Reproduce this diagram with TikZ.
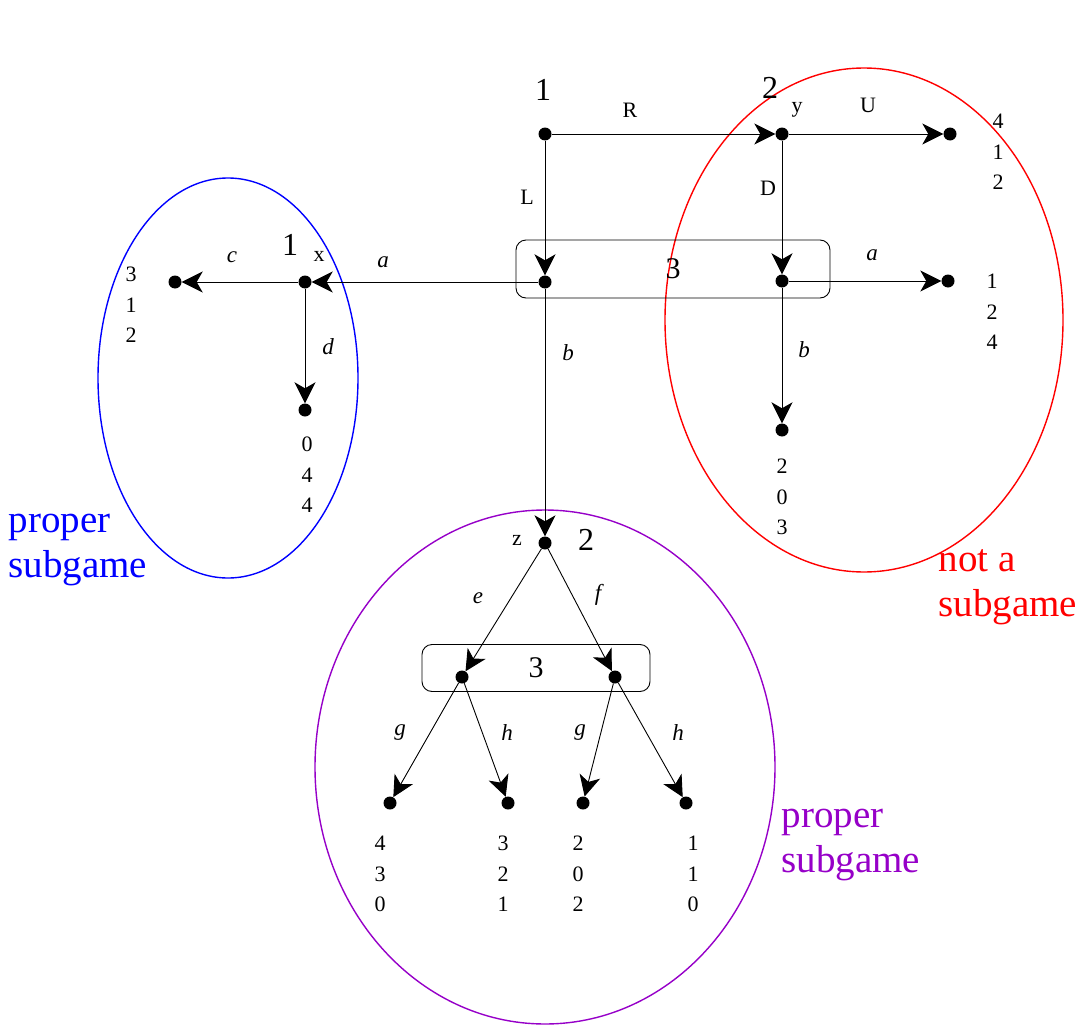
\documentclass[tikz,border=0pt]{standalone}
\usepackage{fontspec}
\setmainfont{Liberation Serif}
\usetikzlibrary{arrows.meta, positioning, shapes.geometric}
\definecolor{subblue}{RGB}{0,0,255}
\definecolor{subred}{RGB}{255,0,0}
\definecolor{subpurple}{RGB}{150,0,200}

\begin{document}
\begin{tikzpicture}[x=1pt, y=-1pt,
  every node/.style={font=\fontsize{20}{30}\selectfont},
  dot/.style={circle, fill, inner sep=0pt, minimum size=13pt},
  player/.style={font=\fontsize{32}{36}\selectfont},
  act/.style={font=\fontsize{22}{26}\selectfont},
  iact/.style={font=\fontsize{23}{26}\selectfont\itshape},
  pay/.style={align=center, font=\fontsize{22}{30.5}\selectfont},
  infoset/.style={draw, rounded corners=10pt, line width=0.9pt,
                  font=\fontsize{30}{34}\selectfont},
  region/.style={draw, ellipse, inner sep=0pt, line width=1.4pt},
  note/.style={align=left, anchor=west, font=\fontsize{39}{45}\selectfont},
  arr/.style={-{Stealth[length=21pt, width=21pt, inset=6pt]}, line width=0.9pt},
]
  \useasboundingbox (0,0) rectangle (1090,1025);

  % Subgame regions
  \node[region, subblue, minimum width=260pt, minimum height=400pt] (sgx) at (228,378) {};
  \node[region, subred, minimum width=398pt, minimum height=504pt] (sgy) at (864,320) {};
  \node[region, subpurple, minimum width=460pt, minimum height=514pt] (sgz) at (545,767) {};

  % Information sets of player 3
  \node[infoset, minimum width=314pt, minimum height=58pt] (h1) at (673,269) {3};
  \node[infoset, minimum width=228pt, minimum height=47pt] (h2) at (536,668) {3};

  % Decision nodes
  \node[dot] (root) at (545,134) {};
  \node[dot] (ny) at (782,134) {};
  \node[dot] (h1l) at (545,282) {};
  \node[dot] (h1r) at (782,281) {};
  \node[dot] (nx) at (305,282) {};
  \node[dot] (nz) at (545,543) {};
  \node[dot] (h2l) at (462,677) {};
  \node[dot] (h2r) at (615,677) {};

  % Terminal nodes
  \node[dot] (tU) at (950,134) {};
  \node[dot] (ta) at (948,281) {};
  \node[dot] (tb) at (782,430) {};
  \node[dot] (tc) at (175,282) {};
  \node[dot] (td) at (305,410) {};
  \node[dot] (tlg) at (390,803) {};
  \node[dot] (tlh) at (508,803) {};
  \node[dot] (trg) at (583,803) {};
  \node[dot] (trh) at (686,803) {};

  % Players and node names
  \node[player] (p1) at (543,90) {1};
  \node[player] (p2) at (770,88) {2};
  \node[act] (yname) at (797,110) {y};
  \node[player] (p1x) at (290,245) {1};
  \node[act] (xname) at (319,256) {x};
  \node[act] (zname) at (517,540) {z};
  \node[player] (p2z) at (586,540) {2};

  % Payoffs
  \node[pay] (uU) at (998,152) {4\\1\\2};
  \node[pay] (ua) at (992,312) {1\\2\\4};
  \node[pay] (ub) at (782,497) {2\\0\\3};
  \node[pay] (uc) at (131,305) {3\\1\\2};
  \node[pay] (ud) at (307,475) {0\\4\\4};
  \node[pay] (ulg) at (380,874) {4\\3\\0};
  \node[pay] (ulh) at (503,874) {3\\2\\1};
  \node[pay] (urg) at (578,874) {2\\0\\2};
  \node[pay] (urh) at (693,874) {1\\1\\0};

  % Moves
  \draw[arr] (root) -- (ny);
  \draw[arr] (root) -- (h1l);
  \draw[arr] (ny) -- (tU);
  \draw[arr] (ny) -- (h1r);
  \draw[arr] (h1r) -- (ta);
  \draw[arr] (h1r) -- (tb);
  \draw[arr] (h1l) -- (nx);
  \draw[arr] (h1l) -- (nz);
  \draw[arr] (nx) -- (tc);
  \draw[arr] (nx) -- (td);
  \draw[arr] (nz) -- (h2l);
  \draw[arr] (nz) -- (h2r);
  \draw[arr] (h2l) -- (tlg);
  \draw[arr] (h2l) -- (tlh);
  \draw[arr] (h2r) -- (trg);
  \draw[arr] (h2r) -- (trh);

  % Move labels
  \node[act] (lR) at (630,110) {R};
  \node[act] (lL) at (527,197) {L};
  \node[act] (lU) at (868,105) {U};
  \node[act] (lD) at (768,188) {D};
  \node[iact] (la1) at (872,255) {a};
  \node[iact] (lb1) at (804,350) {b};
  \node[iact] (la2) at (383,262) {a};
  \node[iact] (lb2) at (568,353) {b};
  \node[iact] (lc) at (232,257) {c};
  \node[iact] (ld) at (328,347) {d};
  \node[iact] (le) at (478,598) {e};
  \node[iact] (lf) at (598,595) {f};
  \node[iact] (lg1) at (400,733) {g};
  \node[iact] (lh1) at (507,733) {h};
  \node[iact] (lg2) at (580,733) {g};
  \node[iact] (lh2) at (678,733) {h};

  % Region notes
  \node[note, subblue] (nb) at (5,550) {proper\\subgame};
  \node[note, subred] (nr) at (935,587) {not a\\subgame};
  \node[note, subpurple] (np) at (778,845) {proper\\subgame};
\end{tikzpicture}
\end{document}
